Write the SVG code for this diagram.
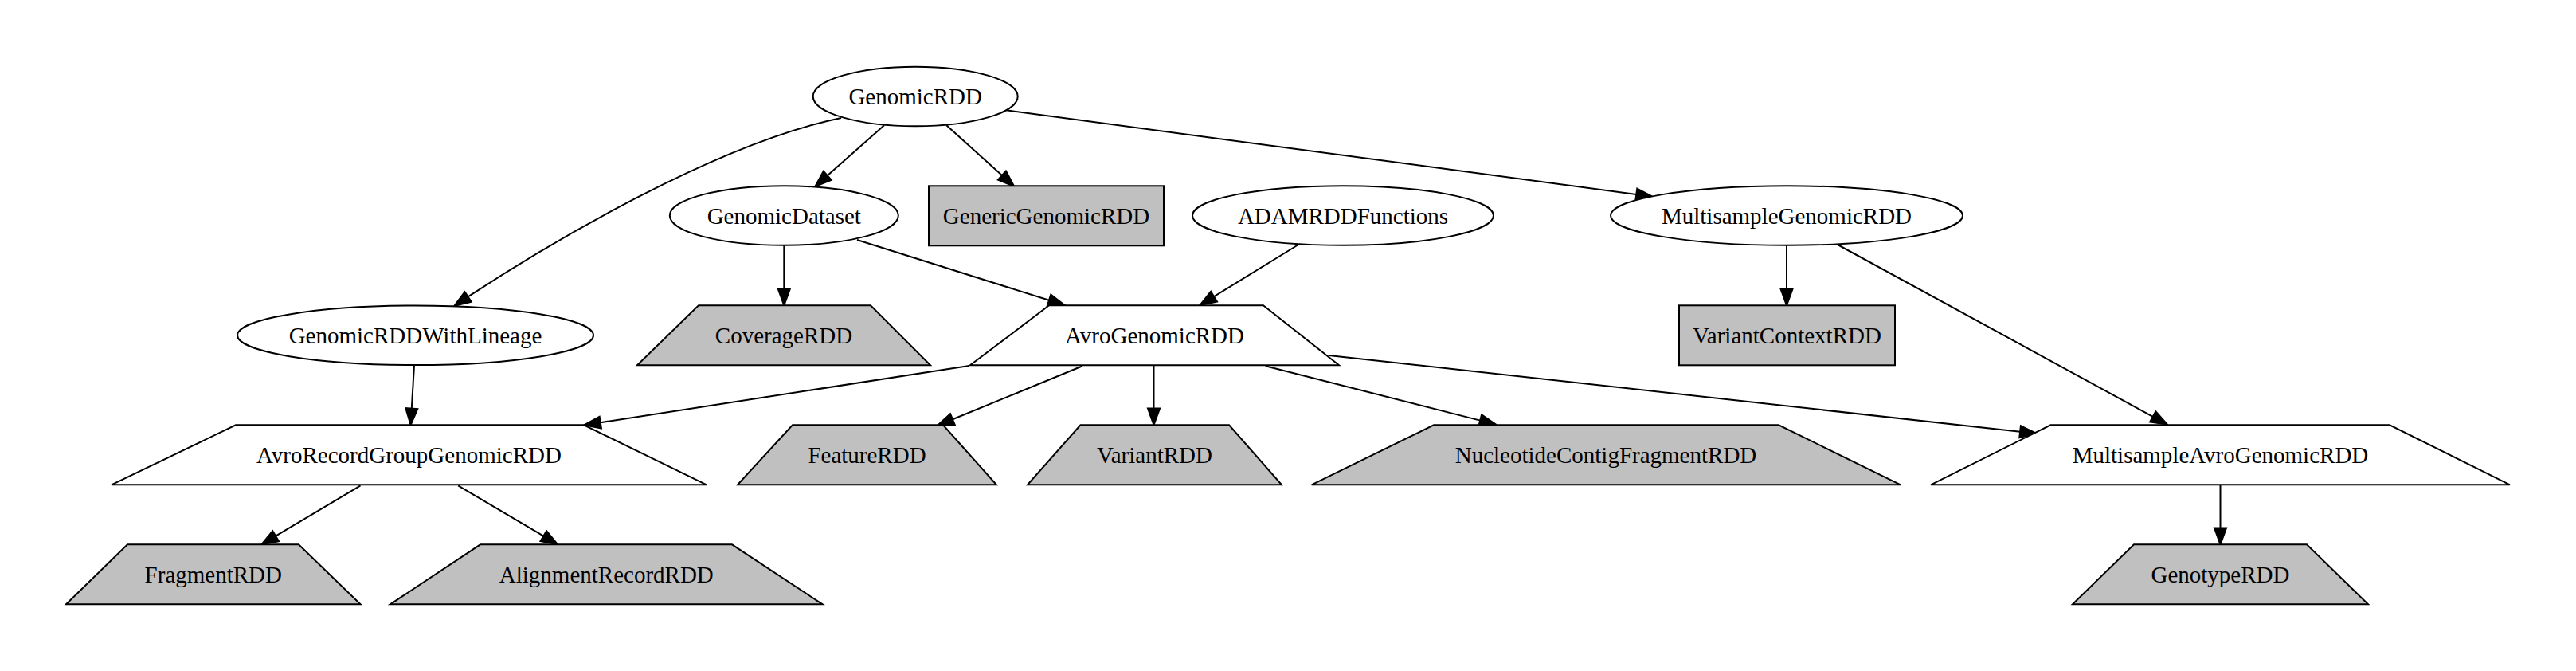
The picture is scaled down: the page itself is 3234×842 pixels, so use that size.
<svg xmlns="http://www.w3.org/2000/svg" width="3234" height="842" viewBox="0 0 3234 842">
<style>
.n{stroke:#000;stroke-width:2;fill:#fff}
.g{stroke:#000;stroke-width:2;fill:#c0c0c0}
.t{font-family:"Liberation Serif","Times New Roman",serif;font-size:29px;text-anchor:middle;fill:#000}
.e{stroke:#000;stroke-width:2;fill:none;marker-end:url(#ah)}
</style>
<defs>
<marker id="ah" markerUnits="userSpaceOnUse" markerWidth="24" markerHeight="18" refX="0" refY="7.5" orient="auto" overflow="visible">
<path d="M0,0 L20.7,7.5 L0,15 Z" fill="#000" stroke="#000" stroke-width="2"/>
</marker>
</defs>
<rect width="3234" height="842" fill="#fff"/>
<g id="edges">
<path class="e" d="M1056,148 C900,180 690,305 587.6,372.4"/>
<path class="e" d="M1110,157.3 L1038.8,220.3"/>
<path class="e" d="M1188.3,157.3 L1257.9,220.1"/>
<path class="e" d="M1263.3,138.3 L2054.3,244"/>
<path class="e" d="M1076,301 L1317,376.8"/>
<path class="e" d="M984.3,308.3 L984.3,362.6"/>
<path class="e" d="M1630,307 L1524.1,372.2"/>
<path class="e" d="M520,458.3 L516.8,512.6"/>
<path class="e" d="M1216.7,459 L753.8,530.2"/>
<path class="e" d="M1359,459.3 L1195.9,526.2"/>
<path class="e" d="M1448.5,458.3 L1448.5,512.6"/>
<path class="e" d="M1588.6,459.3 L1858.2,527.6"/>
<path class="e" d="M1668.3,446 L2536.1,541.7"/>
<path class="e" d="M2307,307 L2702.7,522.8"/>
<path class="e" d="M2243,308.3 L2243,362.6"/>
<path class="e" d="M2787.5,608.3 L2787.5,662.6"/>
<path class="e" d="M452.5,609.3 L346.1,672.7"/>
<path class="e" d="M575.2,609.3 L682.3,672.7"/>
</g>
<g id="GenomicRDD"><ellipse class="n" cx="1149.2" cy="121" rx="128.5" ry="37.3"/><text class="t" x="1149.2" y="131">GenomicRDD</text></g>
<g id="GenomicDataset"><ellipse class="n" cx="984.3" cy="270.5" rx="143.5" ry="37.3"/><text class="t" x="984.3" y="280.5">GenomicDataset</text></g>
<g id="GenericGenomicRDD"><rect class="g" x="1166" y="233.3" width="295" height="75"/><text class="t" x="1313.5" y="280.5">GenericGenomicRDD</text></g>
<g id="ADAMRDDFunctions"><ellipse class="n" cx="1686" cy="270.5" rx="189" ry="37.3"/><text class="t" x="1686" y="280.5">ADAMRDDFunctions</text></g>
<g id="MultisampleGenomicRDD"><ellipse class="n" cx="2243" cy="270.5" rx="221" ry="37.3"/><text class="t" x="2243" y="280.5">MultisampleGenomicRDD</text></g>
<g id="GenomicRDDWithLineage"><ellipse class="n" cx="521.5" cy="420.8" rx="223.5" ry="37.3"/><text class="t" x="521.5" y="430.8">GenomicRDDWithLineage</text></g>
<g id="CoverageRDD"><polygon class="g" points="877,383.3 1093,383.3 1168,458.3 800,458.3"/><text class="t" x="984" y="430.8">CoverageRDD</text></g>
<g id="AvroGenomicRDD"><polygon class="n" points="1317,383.3 1586,383.3 1681,458.3 1218,458.3"/><text class="t" x="1449.5" y="430.8">AvroGenomicRDD</text></g>
<g id="VariantContextRDD"><rect class="g" x="2108" y="383.3" width="271" height="75"/><text class="t" x="2243.5" y="430.8">VariantContextRDD</text></g>
<g id="AvroRecordGroupGenomicRDD"><polygon class="n" points="296,533.3 733,533.3 887,608.3 140,608.3"/><text class="t" x="513.5" y="580.8">AvroRecordGroupGenomicRDD</text></g>
<g id="FeatureRDD"><polygon class="g" points="995,533.3 1184,533.3 1251,608.3 926,608.3"/><text class="t" x="1088.5" y="580.8">FeatureRDD</text></g>
<g id="VariantRDD"><polygon class="g" points="1356.5,533.3 1543,533.3 1609,608.3 1290,608.3"/><text class="t" x="1449.5" y="580.8">VariantRDD</text></g>
<g id="NucleotideContigFragmentRDD"><polygon class="g" points="1800,533.3 2233,533.3 2386,608.3 1646.6,608.3"/><text class="t" x="2016" y="580.8">NucleotideContigFragmentRDD</text></g>
<g id="MultisampleAvroGenomicRDD"><polygon class="n" points="2574.5,533.3 3000,533.3 3151,608.3 2424,608.3"/><text class="t" x="2787.5" y="580.8">MultisampleAvroGenomicRDD</text></g>
<g id="FragmentRDD"><polygon class="g" points="160,683.3 375,683.3 452.5,758.3 83,758.3"/><text class="t" x="267.8" y="730.8">FragmentRDD</text></g>
<g id="AlignmentRecordRDD"><polygon class="g" points="603,683.3 919,683.3 1032.6,758.3 490,758.3"/><text class="t" x="761.3" y="730.8">AlignmentRecordRDD</text></g>
<g id="GenotypeRDD"><polygon class="g" points="2679,683.3 2896,683.3 2973,758.3 2602,758.3"/><text class="t" x="2787.5" y="730.8">GenotypeRDD</text></g>
</svg>
